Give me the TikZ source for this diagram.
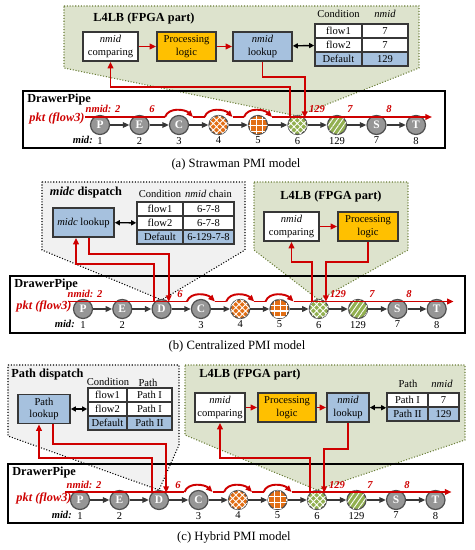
\documentclass[tikz,border=0pt]{standalone}
\usepackage{fontspec}
\setmainfont{Liberation Serif}
\usepackage{tikz}
\usetikzlibrary{arrows.meta,calc,patterns.meta}
\definecolor{flowred}{RGB}{206,0,0}
\definecolor{lbgreen}{RGB}{221,227,205}
\definecolor{lbedge}{RGB}{105,125,55}
\definecolor{dispgray}{RGB}{241,241,241}
\definecolor{boxblue}{RGB}{166,193,222}
\definecolor{boxgold}{RGB}{255,192,0}
\definecolor{boxline}{RGB}{55,55,55}
\definecolor{nodegray}{RGB}{150,150,150}
\definecolor{nodeline}{RGB}{80,80,80}
\definecolor{nodeorange}{RGB}{226,110,20}
\definecolor{nodegreen}{RGB}{146,176,80}

\begin{document}
\begin{tikzpicture}[x=0.2mm,y=0.2mm,font=\fontsize{6}{7}\selectfont,
  >={Triangle[length=1.3mm,width=1.1mm]},
  label distance=0.3pt,
  every label/.style={text=black,inner sep=0.6pt,font=\fontsize{6}{7}\selectfont},
  pipe/.style={circle,draw=nodeline,line width=0.7pt,minimum size=3.8mm,inner sep=0pt,text=white,font=\fontsize{6.5}{7}\selectfont\bfseries},
  gnode/.style={pipe,fill=nodegray},
  onodex/.style={pipe,fill=nodeorange,postaction={pattern={Hatch[angle=45,distance=2.6pt,line width=0.5pt]},pattern color=white}},
  onodeg/.style={pipe,fill=nodeorange,postaction={pattern={Hatch[angle=0,distance=3.4pt,line width=0.6pt]},pattern color=white}},
  gnodex/.style={pipe,fill=nodegreen,postaction={pattern={Hatch[angle=45,distance=2.6pt,line width=0.5pt]},pattern color=white}},
  gnodes/.style={pipe,fill=nodegreen,postaction={pattern={Lines[angle=55,distance=2.4pt,line width=0.5pt]},pattern color=white}},
  l4lb/.style={fill=lbgreen,draw=lbedge,densely dotted,line width=0.6pt},
  disp/.style={fill=dispgray,draw=black,densely dotted,line width=0.6pt},
  pipebox/.style={draw=black,line width=0.9pt},
  lbox/.style={draw=boxline,line width=0.9pt,align=center,inner sep=1pt,minimum height=5.8mm},
  tcell/.style={draw=boxline,line width=0.9pt,minimum height=2.8mm,inner sep=0pt,fill=white},
  hdr/.style={font=\fontsize{7}{8}\selectfont\bfseries},
  capt/.style={font=\fontsize{7.2}{8}\selectfont},
  rlbl/.style={text=flowred,inner sep=0.5pt,font=\fontsize{6}{7}\selectfont\bfseries\itshape},
  pktl/.style={text=flowred,inner sep=0.5pt,font=\fontsize{7}{8}\selectfont\bfseries\itshape},
  midl/.style={inner sep=0.5pt,font=\fontsize{6}{7}\selectfont\bfseries\itshape},
  flow/.style={draw=flowred,line width=1.1pt},
  jump/.style={flow,->,out=70,in=135},
  pipearr/.style={draw=nodeline!70!black,line width=0.9pt,-{Triangle[length=1.3mm,width=1.1mm]}},
  biarr/.style={draw=black,line width=0.8pt,{Triangle[length=1mm,width=1mm]}-{Triangle[length=1mm,width=1mm]}}]
\useasboundingbox (0,0) rectangle (475,550);

% (a) strawman
\draw[l4lb] (64,544) -- (419,544) -- (419,482) -- (297.5,434) -- (64,482) -- cycle;
\draw[pipebox] (23,459) rectangle (445,402);
\node[hdr,anchor=west,inner sep=0pt] (dpa) at (27,450) {DrawerPipe};
\node[hdr] (lba) at (144,531) {L4LB (FPGA part)};
\node[lbox,fill=white,minimum width=11mm] (cmpa) at (110.5,503.5) {\textit{nmid}\\comparing};
\node[lbox,fill=boxgold,minimum width=11.8mm] (prca) at (186.5,503.5) {Processing\\logic};
\node[lbox,fill=boxblue,minimum width=11.8mm] (lkpa) at (262.5,503.5) {\textit{nmid}\\lookup};
\node (hca) at (338.5,536) {Condition};
\node (hna) at (385,536) {\textit{nmid}};
\node[tcell,minimum width=9.4mm] (t1a) at (338.5,519) {flow1};
\node[tcell,minimum width=9.2mm] (u1a) at (385,519) {7};
\node[tcell,minimum width=9.4mm] (t2a) at (338.5,505) {flow2};
\node[tcell,minimum width=9.2mm] (u2a) at (385,505) {7};
\node[tcell,fill=boxblue,minimum width=9.4mm] (t3a) at (338.5,491) {Default};
\node[tcell,fill=boxblue,minimum width=9.2mm] (u3a) at (385,491) {129};
\draw[flow,->] (cmpa) -- (prca);
\draw[flow,->] (prca) -- (lkpa);
\draw[biarr] (lkpa) -- (t2a);

\node[gnode,label=below:1] (pa) at (100,425) {P};
\node[gnode,label=below:2] (ea) at (139.5,425) {E};
\node[gnode,label=below:3] (ca) at (179,425) {C};
\node[onodex,label=below:4] (oa) at (218.5,425) {};
\node[onodeg,label=below:5] (qa) at (258,425) {};
\node[gnodex,label=below:6] (ha) at (297.5,425) {};
\node[gnodes,label=below:129] (ka) at (337,425) {};
\node[gnode,label=below:7] (sa) at (376.5,425) {S};
\node[gnode,label=below:8] (ta) at (416,425) {T};
\node[midl,anchor=east] (mida) at ($(pa)+(-6,-15)$) {mid:};
\draw[pipearr] (pa) edge (ea) (ea) edge (ca) (ca) edge (oa) (oa) edge (qa) (qa) edge (ha)
  (ha) edge (ka) (ka) edge (sa) (sa) edge (ta);

\node[pktl] (pkta) at (57,432) {pkt (flow3)};
\node[rlbl] (nma) at (103,441) {nmid: 2};
\node[rlbl] (r1a) at (152,441) {6};
\node[rlbl] (r2a) at (317,441) {129};
\node[rlbl] (r3a) at (350,441) {7};
\node[rlbl] (r4a) at (389,441) {8};
\draw[flow] ($(pa)+(-15,8)$) -- ($(ca)+(-14,8)$) ($(ca)+(14,8)$) -- ($(oa)+(-14,8)$)
  ($(oa)+(14,8)$) -- ($(qa)+(-14,8)$);
\draw[jump] ($(ca)+(-14,8)$) to ($(ca)+(14,8)$);
\draw[jump] ($(oa)+(-14,8)$) to ($(oa)+(14,8)$);
\draw[jump] ($(qa)+(-14,8)$) to ($(qa)+(14,8)$);
\draw[flow,->] ($(qa)+(14,8)$) -- ($(ta)+(16,8)$);
\draw[flow,->] (ha.north west) |- ([yshift=-5mm]cmpa.south) -- (cmpa.south);
\draw[flow,->] (lkpa.south) -- ([yshift=-3mm]lkpa.south) -| (ha.north east);
\node[capt] (capa) at (236,386) {(a) Strawman PMI model};

% (b) centralized
\draw[disp] (42,368) -- (245,368) -- (245,300) -- (161.6,250) -- (42,300) -- cycle;
\draw[l4lb] (254,368) -- (408,368) -- (408,300) -- (318.8,250) -- (254,300) -- cycle;
\draw[pipebox] (10,274) rectangle (465,217);
\node[hdr,anchor=west,inner sep=0pt] (dpb) at (14,265) {DrawerPipe};
\node[hdr] (dsb) at (86,357) {\textit{midc} dispatch};
\node[lbox,fill=boxblue,minimum width=12.2mm] (mlb) at (83.5,327.5) {\textit{midc} lookup};
\node (hcb) at (160,356) {Condition};
\node (hnb) at (208.5,356) {\textit{nmid} chain};
\node[tcell,minimum width=9.2mm] (t1b) at (160,341) {flow1};
\node[tcell,minimum width=10.2mm] (u1b) at (208.5,341) {6-7-8};
\node[tcell,minimum width=9.2mm] (t2b) at (160,327) {flow2};
\node[tcell,minimum width=10.2mm] (u2b) at (208.5,327) {6-7-8};
\node[tcell,fill=boxblue,minimum width=9.2mm] (t3b) at (160,313) {Default};
\node[tcell,fill=boxblue,minimum width=10.2mm] (u3b) at (208.5,313) {6-129-7-8};
\draw[biarr] (mlb) -- (t2b);
\node[hdr] (lbb) at (331,353) {L4LB (FPGA part)};
\node[lbox,fill=white,minimum width=11mm] (cmpb) at (291.5,323.5) {\textit{nmid}\\comparing};
\node[lbox,fill=boxgold,minimum width=12mm] (prcb) at (368,323.5) {Processing\\logic};
\draw[flow,->] (cmpb) -- (prcb);

\node[gnode,label=below:1] (pb) at (83,241) {P};
\node[gnode,label=below:2] (eb) at (122.3,241) {E};
\node[gnode] (db) at (161.6,241) {D};
\node[gnode,label=below:3] (cb) at (200.9,241) {C};
\node[onodex,label=below:4] (ob) at (240.2,241) {};
\node[onodeg,label=below:5] (qb) at (279.5,241) {};
\node[gnodex,label=below:6] (hb) at (318.8,241) {};
\node[gnodes,label=below:129] (kb) at (358.1,241) {};
\node[gnode,label=below:7] (sb) at (397.4,241) {S};
\node[gnode,label=below:8] (tb) at (436.7,241) {T};
\node[midl,anchor=east] (midb) at ($(pb)+(-7,-15)$) {mid:};
\draw[pipearr] (pb) edge (eb) (eb) edge (db) (db) edge (cb) (cb) edge (ob) (ob) edge (qb)
  (qb) edge (hb) (hb) edge (kb) (kb) edge (sb) (sb) edge (tb);

\node[pktl] (pktb) at (44,244) {pkt (flow3)};
\node[rlbl] (nmb) at (85,256) {nmid: 2};
\node[rlbl] (r1b) at (180,256) {6};
\node[rlbl] (r2b) at (338,256) {129};
\node[rlbl] (r3b) at (372,256) {7};
\node[rlbl] (r4b) at (409,256) {8};
\draw[flow] ($(pb)+(-15,7.5)$) -- ($(cb)+(-14,7.5)$) ($(cb)+(14,7.5)$) -- ($(ob)+(-14,7.5)$)
  ($(ob)+(14,7.5)$) -- ($(qb)+(-14,7.5)$);
\draw[jump] ($(cb)+(-14,7.5)$) to ($(cb)+(14,7.5)$);
\draw[jump] ($(ob)+(-14,7.5)$) to ($(ob)+(14,7.5)$);
\draw[jump] ($(qb)+(-14,7.5)$) to ($(qb)+(14,7.5)$);
\draw[flow,->] ($(qb)+(14,7.5)$) -- ($(tb)+(17,7.5)$);
\draw[flow,->] (db.north west) |- ([xshift=-1.5mm,yshift=-5.2mm]mlb.south) -- ([xshift=-1.5mm]mlb.south);
\draw[flow,->] ([xshift=1.1mm]mlb.south) -- ([xshift=1.1mm,yshift=-3.2mm]mlb.south) -| (db.north east);
\draw[flow,->] (hb.north west) |- ([yshift=-4mm]cmpb.south) -- (cmpb.south);
\draw[flow,->] (prcb.south) -- ([yshift=-4mm]prcb.south) -| (hb.north east);
\node[capt] (capb) at (237,204) {(b) Centralized PMI model};

% (c) hybrid
\draw[disp] (8,185) -- (179,185) -- (179,105) -- (159,60) -- (8,114) -- cycle;
\draw[l4lb] (185,185) -- (465,185) -- (465,110) -- (317,60) -- (185,115) -- cycle;
\draw[pipebox] (8,86) rectangle (463,27);
\node[hdr,anchor=west,inner sep=0pt] (dpc) at (12,77) {DrawerPipe};
\node[hdr] (dsc) at (47.5,175) {Path dispatch};
\node[lbox,fill=boxblue,minimum width=10.4mm] (plc) at (44,141) {Path\\lookup};
\node (hcc) at (108,168) {Condition};
\node (hpc) at (148,167) {Path};
\node[tcell,minimum width=7.8mm] (t1c) at (107.5,155) {flow1};
\node[tcell,minimum width=9mm] (u1c) at (149.5,155) {Path I};
\node[tcell,minimum width=7.8mm] (t2c) at (107.5,141) {flow2};
\node[tcell,minimum width=9mm] (u2c) at (149.5,141) {Path I};
\node[tcell,fill=boxblue,minimum width=7.8mm] (t3c) at (107.5,127) {Default};
\node[tcell,fill=boxblue,minimum width=9mm] (u3c) at (149.5,127) {Path II};
\draw[biarr] (plc) -- (t2c);
\node[hdr] (lbc) at (250,175) {L4LB (FPGA part)};
\node[lbox,fill=white,minimum width=10mm] (cmpc) at (220,142.5) {\textit{nmid}\\comparing};
\node[lbox,fill=boxgold,minimum width=11.6mm] (prcc) at (287,142.5) {Processing\\logic};
\node[lbox,fill=boxblue,minimum width=8.4mm] (lkpc) at (348,142.5) {\textit{nmid}\\lookup};
\node (hpc2) at (408,166) {Path};
\node (hnc) at (442,166) {\textit{nmid}};
\node[tcell,minimum width=8.2mm] (v1c) at (407.5,150) {Path I};
\node[tcell,minimum width=6.2mm] (w1c) at (443.5,150) {7};
\node[tcell,fill=boxblue,minimum width=8.2mm] (v2c) at (407.5,136) {Path II};
\node[tcell,fill=boxblue,minimum width=6.2mm] (w2c) at (443.5,136) {129};
\draw[flow,->] (cmpc) -- (prcc);
\draw[flow,->] (prcc) -- (lkpc);
\draw[biarr] (lkpc.east) -- (v1c.south west);

\node[gnode,label=below:1] (pc) at (80,50) {P};
\node[gnode,label=below:2] (ec) at (119.5,50) {E};
\node[gnode] (dc) at (159,50) {D};
\node[gnode,label=below:3] (cc) at (198.5,50) {C};
\node[onodex,label=below:4] (oc) at (238,50) {};
\node[onodeg,label=below:5] (qc) at (277.5,50) {};
\node[gnodex,label=below:6] (hc) at (317,50) {};
\node[gnodes,label=below:129] (kc) at (356.5,50) {};
\node[gnode,label=below:7] (sc) at (396,50) {S};
\node[gnode,label=below:8] (tc) at (435.5,50) {T};
\node[midl,anchor=east] (midc) at ($(pc)+(-7,-15)$) {mid:};
\draw[pipearr] (pc) edge (ec) (ec) edge (dc) (dc) edge (cc) (cc) edge (oc) (oc) edge (qc)
  (qc) edge (hc) (hc) edge (kc) (kc) edge (sc) (sc) edge (tc);

\node[pktl] (pktc) at (44,52) {pkt (flow3)};
\node[rlbl] (nmc) at (84,65) {nmid: 2};
\node[rlbl] (r1c) at (178,65) {6};
\node[rlbl] (r2c) at (337,65) {129};
\node[rlbl] (r3c) at (370,65) {7};
\node[rlbl] (r4c) at (407,65) {8};
\draw[flow] ($(pc)+(-15,8)$) -- ($(cc)+(-14,8)$) ($(cc)+(14,8)$) -- ($(oc)+(-14,8)$)
  ($(oc)+(14,8)$) -- ($(qc)+(-14,8)$);
\draw[jump] ($(cc)+(-14,8)$) to ($(cc)+(14,8)$);
\draw[jump] ($(oc)+(-14,8)$) to ($(oc)+(14,8)$);
\draw[jump] ($(qc)+(-14,8)$) to ($(qc)+(14,8)$);
\draw[flow,->] ($(qc)+(14,8)$) -- ($(tc)+(16,8)$);
\draw[flow,->] (dc.north west) |- ([xshift=-1mm,yshift=-6.7mm]plc.south) -- ([xshift=-1mm]plc.south);
\draw[flow,->] ([xshift=1.8mm]plc.south) -- ([xshift=1.8mm,yshift=-3.9mm]plc.south) -| (dc.north east);
\draw[flow,->] (hc.north west) |- ([yshift=-7mm]cmpc.south) -- (cmpc.south);
\draw[flow,->] (lkpc.south) -- ([yshift=-5.2mm]lkpc.south) -| (hc.north east);
\node[capt] (capc) at (234,13) {(c) Hybrid PMI model};
\end{tikzpicture}
\end{document}
